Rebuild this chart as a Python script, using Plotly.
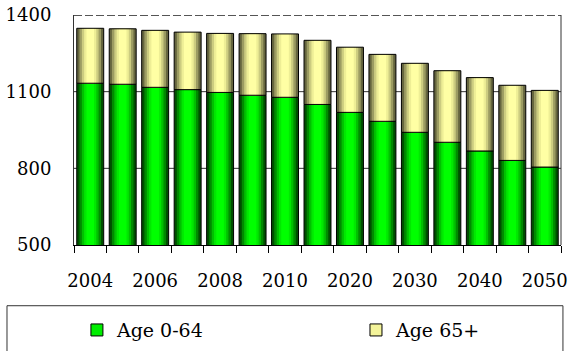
import plotly.graph_objects as go

# ---- data ----
years = ["2004", "2005", "2006", "2007", "2008", "2009", "2010", "2015",
         "2020", "2025", "2030", "2035", "2040", "2045", "2050"]
age_0_64 = [1133, 1129, 1117, 1108, 1097, 1086, 1078, 1050, 1019, 984, 941, 902, 868, 831, 805]
age_65_plus = [215, 217, 223, 225, 231, 241, 248, 251, 255, 262, 270, 280, 287, 294, 300]
x_tick_labels = ["2004", "", "2006", "", "2008", "", "2010", "", "2020", "", "2030", "", "2040", "", "2050"]
y_tick_values = [500, 800, 1100, 1400]
series_names = ["Age 0-64", "Age 65+"]

# ---- styling ----
FONT = "DejaVu Serif"
BAR_W = 0.83
width_steps = [1.0, 0.8, 0.62, 0.45, 0.28]
green_steps = ["#004f00", "#008a00", "#00c000", "#00e800", "#00ff00"]
yellow_steps = ["#66663f", "#9c9c62", "#cccc80", "#eeee96", "#ffffa4"]

fig = go.Figure()

base_green = [0] * len(years)
base_yellow = age_0_64

for vals, base, steps in [(age_0_64, base_green, green_steps),
                          (age_65_plus, base_yellow, yellow_steps)]:
    for w, c in zip(width_steps, steps):
        fig.add_trace(go.Bar(x=years, y=vals, base=base, width=BAR_W * w,
                             marker=dict(color=c, line=dict(width=0)),
                             showlegend=False, hoverinfo="skip"))
    fig.add_trace(go.Bar(x=years, y=vals, base=base, width=BAR_W,
                         marker=dict(color="rgba(0,0,0,0)", line=dict(color="black", width=1)),
                         showlegend=False, hoverinfo="skip"))

# legend entries
fig.add_trace(go.Bar(x=[None], y=[None], name=series_names[0], legend="legend",
                     marker=dict(color="#00ee00", line=dict(color="black", width=1))))
fig.add_trace(go.Bar(x=[None], y=[None], name=series_names[1], legend="legend2",
                     marker=dict(color="#f4f49a", line=dict(color="black", width=1))))

shapes = []
for v in y_tick_values[1:-1]:
    shapes.append(dict(type="line", xref="paper", yref="y", x0=0, x1=1, y0=v, y1=v,
                       line=dict(color="#333333", width=1), layer="below"))
shapes.append(dict(type="line", xref="paper", yref="y", x0=0, x1=1,
                   y0=y_tick_values[-1], y1=y_tick_values[-1],
                   line=dict(color="#555555", width=2, dash="8px,3px")))
shapes.append(dict(type="line", xref="paper", yref="paper", x0=1, x1=1, y0=0, y1=1,
                   line=dict(color="#333333", width=1)))
# legend frame
shapes.append(dict(type="rect", xref="paper", yref="paper",
                   x0=-0.1376, x1=1.004, y0=-0.6, y1=-0.264,
                   line=dict(color="#333333", width=1), fillcolor="rgba(0,0,0,0)"))

legend_common = dict(orientation="h", yanchor="middle", xanchor="left",
                     font=dict(family=FONT, size=19, color="black"),
                     bgcolor="rgba(0,0,0,0)", borderwidth=0)

fig.update_layout(
    width=568, height=351,
    margin=dict(l=74, r=7, t=15, b=106, autoexpand=False),
    paper_bgcolor="white", plot_bgcolor="white",
    barmode="overlay",
    font=dict(family=FONT, size=18, color="black"),
    shapes=shapes,
    legend=dict(x=0.006, y=-0.37, **legend_common),
    legend2=dict(x=0.579, y=-0.37, **legend_common),
    xaxis=dict(type="category", tickmode="array", tickvals=years, ticktext=x_tick_labels,
               tickson="boundaries", ticks="outside", ticklen=7, tickcolor="black",
               showline=True, linecolor="black", linewidth=1, showgrid=False,
               ticklabelstandoff=19, tickangle=0,
               tickfont=dict(family=FONT, size=18, color="black")),
    yaxis=dict(range=[500, 1400], tickmode="array", tickvals=y_tick_values,
               showgrid=False, zeroline=False, showline=True, linecolor="#333333",
               linewidth=1, ticks="", ticklabelstandoff=18,
               tickfont=dict(family=FONT, size=18, color="black")),
)

fig.write_html("out.html", config={"displayModeBar": False},
               post_script="document.body.style.margin='0';document.body.style.overflow='hidden';")
